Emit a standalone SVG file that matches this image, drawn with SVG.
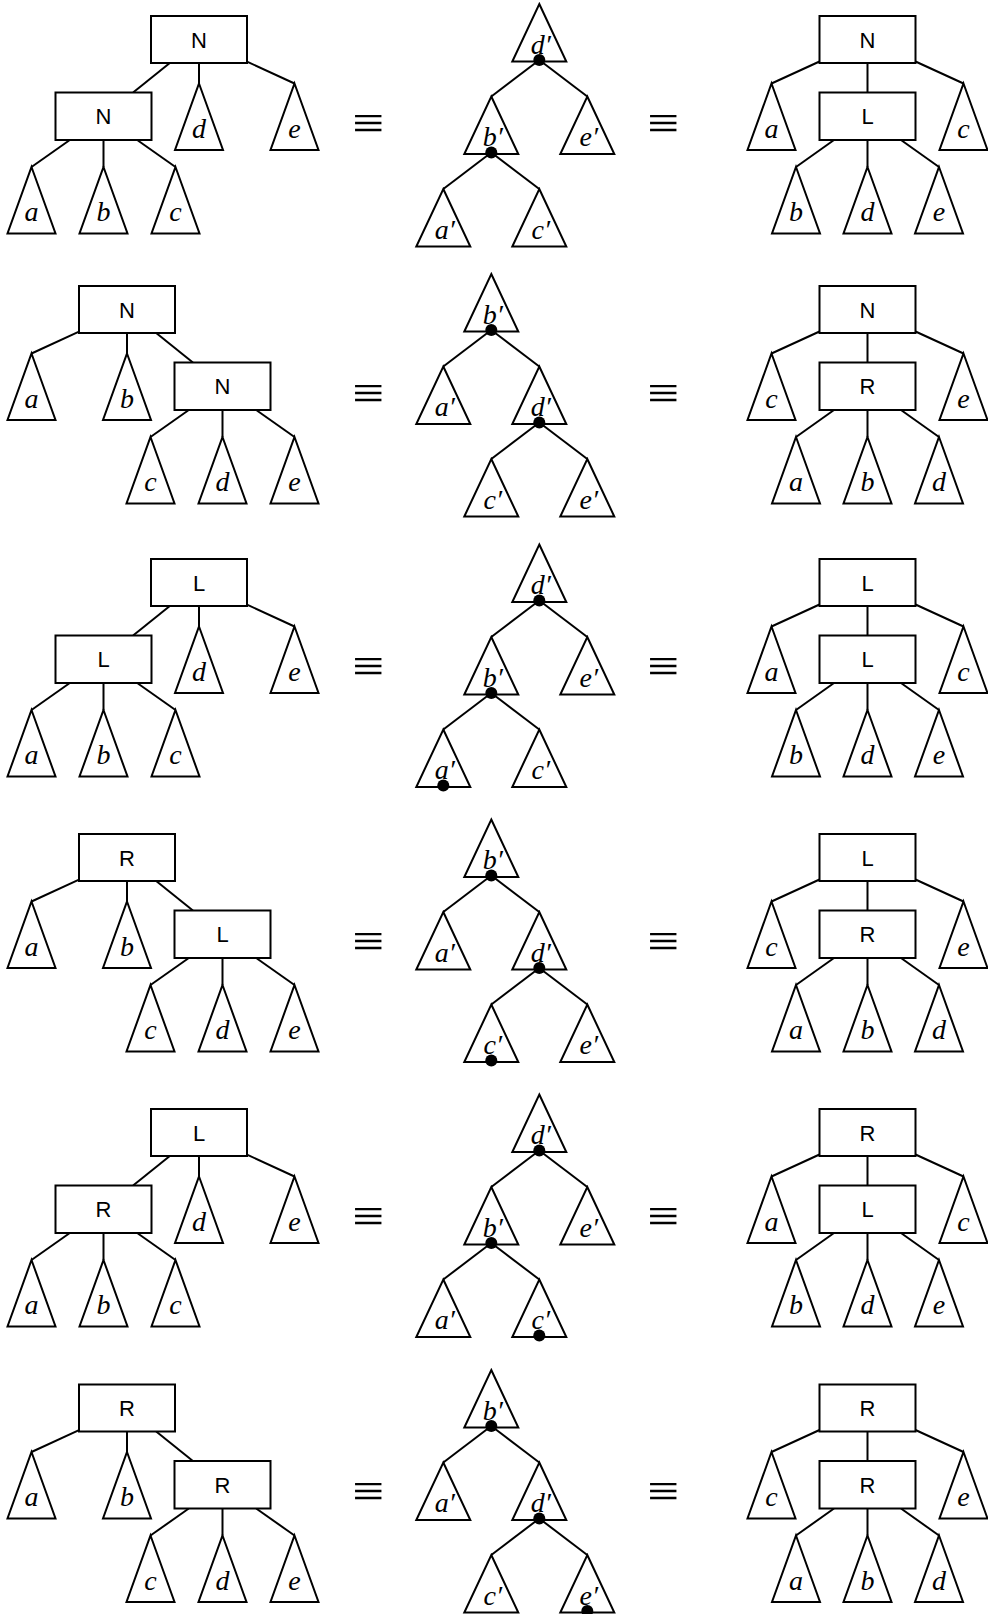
<svg xmlns="http://www.w3.org/2000/svg" xmlns:xlink="http://www.w3.org/1999/xlink" width="988" height="1614" viewBox="0 0 988 1614">
<defs>
<style>
.ln line{stroke:#000;stroke-width:2;fill:none}
.bx{fill:#fff;stroke:#000;stroke-width:2}
.tr{fill:#fff;stroke:#000;stroke-width:2;stroke-linejoin:miter}
.bl{font-family:"Liberation Sans",Arial,sans-serif;font-size:22px;text-anchor:middle}
.lb{font-family:"Liberation Serif","Times New Roman",serif;font-style:italic;font-size:28px;text-anchor:middle}
.eq{font-family:"Liberation Serif","Times New Roman",serif;font-size:48px;text-anchor:middle}
.dt{fill:#000}
</style>
<polygon id="t" points="0,0 24,66.5 -24,66.5"/>
<polygon id="m" points="0,0 27,57.5 -27,57.5"/>
</defs>
<rect width="988" height="1614" fill="#fff"/>

<!-- ROW 1 -->
<g id="row1">
<g id="r1-connectors" class="ln">
<line x1="169.8" y1="63" x2="133.1" y2="92.5"/><line x1="199" y1="63" x2="199" y2="83.5"/><line x1="247" y1="61.6" x2="294.5" y2="83.5"/>
<line x1="69.8" y1="140" x2="31.5" y2="167"/><line x1="103.5" y1="140" x2="103.5" y2="167"/><line x1="137.2" y1="140" x2="175.5" y2="167"/>
<line x1="867.5" y1="63" x2="867.5" y2="92.5"/><line x1="819.5" y1="61.5" x2="771.5" y2="83.5"/><line x1="915.5" y1="61.5" x2="963.5" y2="83.5"/>
<line x1="834" y1="140" x2="796" y2="167"/><line x1="867.5" y1="140" x2="867.5" y2="167"/><line x1="901" y1="140" x2="939" y2="167"/>
<line x1="539.3" y1="60" x2="491.3" y2="96.5"/><line x1="539.3" y1="60" x2="587.3" y2="96.5"/>
<line x1="491.3" y1="152.5" x2="443.3" y2="189"/><line x1="491.3" y1="152.5" x2="539.3" y2="189"/>
</g>
<g id="r1-l-top"><rect class="bx" x="151" y="16" width="96" height="47"/><text class="bl" x="199" y="47.5">N</text></g>
<g id="r1-l-low"><rect class="bx" x="55.5" y="92.5" width="96" height="47.5"/><text class="bl" x="103.5" y="124.2">N</text></g>
<g id="r1-l-a"><use href="#t" class="tr" x="31.5" y="167"/><text class="lb" x="31.5" y="221">a</text></g>
<g id="r1-l-b"><use href="#t" class="tr" x="103.5" y="167"/><text class="lb" x="103.5" y="221">b</text></g>
<g id="r1-l-c"><use href="#t" class="tr" x="175.5" y="167"/><text class="lb" x="175.5" y="221">c</text></g>
<g id="r1-l-d"><use href="#t" class="tr" x="199" y="83.5"/><text class="lb" x="199" y="137.5">d</text></g>
<g id="r1-l-e"><use href="#t" class="tr" x="294.5" y="83.5"/><text class="lb" x="294.5" y="137.5">e</text></g>
<text id="r1-eq1" class="eq" x="368" y="138.5" textLength="32" lengthAdjust="spacingAndGlyphs">≡</text>
<g id="r1-m-d"><use href="#m" class="tr" x="539.3" y="4"/><text class="lb" x="540.8" y="53.5">d′</text><circle class="dt" cx="539.3" cy="60" r="6"/></g>
<g id="r1-m-b"><use href="#m" class="tr" x="491.3" y="96.5"/><text class="lb" x="492.8" y="146">b′</text><circle class="dt" cx="491.3" cy="152.5" r="6"/></g>
<g id="r1-m-e"><use href="#m" class="tr" x="587.3" y="96.5"/><text class="lb" x="588.8" y="146">e′</text></g>
<g id="r1-m-a"><use href="#m" class="tr" x="443.3" y="189"/><text class="lb" x="444.8" y="238.5">a′</text></g>
<g id="r1-m-c"><use href="#m" class="tr" x="539.3" y="189"/><text class="lb" x="540.8" y="238.5">c′</text></g>
<text id="r1-eq2" class="eq" x="663" y="138.5" textLength="32" lengthAdjust="spacingAndGlyphs">≡</text>
<g id="r1-r-top"><rect class="bx" x="819.5" y="16" width="96" height="47"/><text class="bl" x="867.5" y="47.5">N</text></g>
<g id="r1-r-low"><rect class="bx" x="819.5" y="92.5" width="96" height="47.5"/><text class="bl" x="867.5" y="124.2">L</text></g>
<g id="r1-r-a"><use href="#t" class="tr" x="771.5" y="83.5"/><text class="lb" x="771.5" y="137.5">a</text></g>
<g id="r1-r-c"><use href="#t" class="tr" x="963.5" y="83.5"/><text class="lb" x="963.5" y="137.5">c</text></g>
<g id="r1-r-b"><use href="#t" class="tr" x="796" y="167"/><text class="lb" x="796" y="221">b</text></g>
<g id="r1-r-d"><use href="#t" class="tr" x="867.5" y="167"/><text class="lb" x="867.5" y="221">d</text></g>
<g id="r1-r-e"><use href="#t" class="tr" x="939" y="167"/><text class="lb" x="939" y="221">e</text></g>
</g>

<!-- ROW 2 -->
<g id="row2">
<g id="r2-connectors" class="ln">
<line x1="156.2" y1="333" x2="192.9" y2="362.5"/><line x1="127" y1="333" x2="127" y2="353.5"/><line x1="79" y1="331.6" x2="31.5" y2="353.5"/>
<line x1="256.2" y1="410" x2="294.5" y2="437"/><line x1="222.5" y1="410" x2="222.5" y2="437"/><line x1="188.8" y1="410" x2="150.5" y2="437"/>
<line x1="867.5" y1="333" x2="867.5" y2="362.5"/><line x1="819.5" y1="331.5" x2="771.5" y2="353.5"/><line x1="915.5" y1="331.5" x2="963.5" y2="353.5"/>
<line x1="834" y1="410" x2="796" y2="437"/><line x1="867.5" y1="410" x2="867.5" y2="437"/><line x1="901" y1="410" x2="939" y2="437"/>
<line x1="491.3" y1="330" x2="443.3" y2="366.5"/><line x1="491.3" y1="330" x2="539.3" y2="366.5"/>
<line x1="539.3" y1="422.5" x2="491.3" y2="459"/><line x1="539.3" y1="422.5" x2="587.3" y2="459"/>
</g>
<g id="r2-l-top"><rect class="bx" x="79" y="286" width="96" height="47"/><text class="bl" x="127" y="317.5">N</text></g>
<g id="r2-l-low"><rect class="bx" x="174.5" y="362.5" width="96" height="47.5"/><text class="bl" x="222.5" y="394.2">N</text></g>
<g id="r2-l-a"><use href="#t" class="tr" x="31.5" y="353.5"/><text class="lb" x="31.5" y="407.5">a</text></g>
<g id="r2-l-b"><use href="#t" class="tr" x="127" y="353.5"/><text class="lb" x="127" y="407.5">b</text></g>
<g id="r2-l-c"><use href="#t" class="tr" x="150.5" y="437"/><text class="lb" x="150.5" y="491">c</text></g>
<g id="r2-l-d"><use href="#t" class="tr" x="222.5" y="437"/><text class="lb" x="222.5" y="491">d</text></g>
<g id="r2-l-e"><use href="#t" class="tr" x="294.5" y="437"/><text class="lb" x="294.5" y="491">e</text></g>
<text id="r2-eq1" class="eq" x="368" y="408.5" textLength="32" lengthAdjust="spacingAndGlyphs">≡</text>
<g id="r2-m-b"><use href="#m" class="tr" x="491.3" y="274"/><text class="lb" x="492.8" y="323.5">b′</text><circle class="dt" cx="491.3" cy="330" r="6"/></g>
<g id="r2-m-a"><use href="#m" class="tr" x="443.3" y="366.5"/><text class="lb" x="444.8" y="416">a′</text></g>
<g id="r2-m-d"><use href="#m" class="tr" x="539.3" y="366.5"/><text class="lb" x="540.8" y="416">d′</text><circle class="dt" cx="539.3" cy="422.5" r="6"/></g>
<g id="r2-m-c"><use href="#m" class="tr" x="491.3" y="459"/><text class="lb" x="492.8" y="508.5">c′</text></g>
<g id="r2-m-e"><use href="#m" class="tr" x="587.3" y="459"/><text class="lb" x="588.8" y="508.5">e′</text></g>
<text id="r2-eq2" class="eq" x="663" y="408.5" textLength="32" lengthAdjust="spacingAndGlyphs">≡</text>
<g id="r2-r-top"><rect class="bx" x="819.5" y="286" width="96" height="47"/><text class="bl" x="867.5" y="317.5">N</text></g>
<g id="r2-r-low"><rect class="bx" x="819.5" y="362.5" width="96" height="47.5"/><text class="bl" x="867.5" y="394.2">R</text></g>
<g id="r2-r-c"><use href="#t" class="tr" x="771.5" y="353.5"/><text class="lb" x="771.5" y="407.5">c</text></g>
<g id="r2-r-e"><use href="#t" class="tr" x="963.5" y="353.5"/><text class="lb" x="963.5" y="407.5">e</text></g>
<g id="r2-r-a"><use href="#t" class="tr" x="796" y="437"/><text class="lb" x="796" y="491">a</text></g>
<g id="r2-r-b"><use href="#t" class="tr" x="867.5" y="437"/><text class="lb" x="867.5" y="491">b</text></g>
<g id="r2-r-d"><use href="#t" class="tr" x="939" y="437"/><text class="lb" x="939" y="491">d</text></g>
</g>

<!-- ROW 3 -->
<g id="row3" transform="translate(0,543)">
<g id="r3-connectors" class="ln">
<line x1="169.8" y1="63" x2="133.1" y2="92.5"/><line x1="199" y1="63" x2="199" y2="83.5"/><line x1="247" y1="61.6" x2="294.5" y2="83.5"/>
<line x1="69.8" y1="140" x2="31.5" y2="167"/><line x1="103.5" y1="140" x2="103.5" y2="167"/><line x1="137.2" y1="140" x2="175.5" y2="167"/>
<line x1="867.5" y1="63" x2="867.5" y2="92.5"/><line x1="819.5" y1="61.5" x2="771.5" y2="83.5"/><line x1="915.5" y1="61.5" x2="963.5" y2="83.5"/>
<line x1="834" y1="140" x2="796" y2="167"/><line x1="867.5" y1="140" x2="867.5" y2="167"/><line x1="901" y1="140" x2="939" y2="167"/>
<g transform="translate(0,-2.5)">
<line x1="539.3" y1="60" x2="491.3" y2="96.5"/><line x1="539.3" y1="60" x2="587.3" y2="96.5"/>
<line x1="491.3" y1="152.5" x2="443.3" y2="189"/><line x1="491.3" y1="152.5" x2="539.3" y2="189"/>
</g>
</g>
<g id="r3-l-top"><rect class="bx" x="151" y="16" width="96" height="47"/><text class="bl" x="199" y="47.5">L</text></g>
<g id="r3-l-low"><rect class="bx" x="55.5" y="92.5" width="96" height="47.5"/><text class="bl" x="103.5" y="124.2">L</text></g>
<g id="r3-l-a"><use href="#t" class="tr" x="31.5" y="167"/><text class="lb" x="31.5" y="221">a</text></g>
<g id="r3-l-b"><use href="#t" class="tr" x="103.5" y="167"/><text class="lb" x="103.5" y="221">b</text></g>
<g id="r3-l-c"><use href="#t" class="tr" x="175.5" y="167"/><text class="lb" x="175.5" y="221">c</text></g>
<g id="r3-l-d"><use href="#t" class="tr" x="199" y="83.5"/><text class="lb" x="199" y="137.5">d</text></g>
<g id="r3-l-e"><use href="#t" class="tr" x="294.5" y="83.5"/><text class="lb" x="294.5" y="137.5">e</text></g>
<text id="r3-eq1" class="eq" x="368" y="138.5" textLength="32" lengthAdjust="spacingAndGlyphs">≡</text>
<g transform="translate(0,-2.5)">
<g id="r3-m-d"><use href="#m" class="tr" x="539.3" y="4"/><text class="lb" x="540.8" y="53.5">d′</text><circle class="dt" cx="539.3" cy="60" r="6"/></g>
<g id="r3-m-b"><use href="#m" class="tr" x="491.3" y="96.5"/><text class="lb" x="492.8" y="146">b′</text><circle class="dt" cx="491.3" cy="152.5" r="6"/></g>
<g id="r3-m-e"><use href="#m" class="tr" x="587.3" y="96.5"/><text class="lb" x="588.8" y="146">e′</text></g>
<g id="r3-m-a"><use href="#m" class="tr" x="443.3" y="189"/><text class="lb" x="444.8" y="238.5">a′</text><circle class="dt" cx="443.3" cy="245" r="6"/></g>
<g id="r3-m-c"><use href="#m" class="tr" x="539.3" y="189"/><text class="lb" x="540.8" y="238.5">c′</text></g>
</g>
<text id="r3-eq2" class="eq" x="663" y="138.5" textLength="32" lengthAdjust="spacingAndGlyphs">≡</text>
<g id="r3-r-top"><rect class="bx" x="819.5" y="16" width="96" height="47"/><text class="bl" x="867.5" y="47.5">L</text></g>
<g id="r3-r-low"><rect class="bx" x="819.5" y="92.5" width="96" height="47.5"/><text class="bl" x="867.5" y="124.2">L</text></g>
<g id="r3-r-a"><use href="#t" class="tr" x="771.5" y="83.5"/><text class="lb" x="771.5" y="137.5">a</text></g>
<g id="r3-r-c"><use href="#t" class="tr" x="963.5" y="83.5"/><text class="lb" x="963.5" y="137.5">c</text></g>
<g id="r3-r-b"><use href="#t" class="tr" x="796" y="167"/><text class="lb" x="796" y="221">b</text></g>
<g id="r3-r-d"><use href="#t" class="tr" x="867.5" y="167"/><text class="lb" x="867.5" y="221">d</text></g>
<g id="r3-r-e"><use href="#t" class="tr" x="939" y="167"/><text class="lb" x="939" y="221">e</text></g>
</g>

<!-- ROW 4 -->
<g id="row4" transform="translate(0,548)">
<g id="r4-connectors" class="ln">
<line x1="156.2" y1="333" x2="192.9" y2="362.5"/><line x1="127" y1="333" x2="127" y2="353.5"/><line x1="79" y1="331.6" x2="31.5" y2="353.5"/>
<line x1="256.2" y1="410" x2="294.5" y2="437"/><line x1="222.5" y1="410" x2="222.5" y2="437"/><line x1="188.8" y1="410" x2="150.5" y2="437"/>
<line x1="867.5" y1="333" x2="867.5" y2="362.5"/><line x1="819.5" y1="331.5" x2="771.5" y2="353.5"/><line x1="915.5" y1="331.5" x2="963.5" y2="353.5"/>
<line x1="834" y1="410" x2="796" y2="437"/><line x1="867.5" y1="410" x2="867.5" y2="437"/><line x1="901" y1="410" x2="939" y2="437"/>
<g transform="translate(0,-2.5)">
<line x1="491.3" y1="330" x2="443.3" y2="366.5"/><line x1="491.3" y1="330" x2="539.3" y2="366.5"/>
<line x1="539.3" y1="422.5" x2="491.3" y2="459"/><line x1="539.3" y1="422.5" x2="587.3" y2="459"/>
</g>
</g>
<g id="r4-l-top"><rect class="bx" x="79" y="286" width="96" height="47"/><text class="bl" x="127" y="317.5">R</text></g>
<g id="r4-l-low"><rect class="bx" x="174.5" y="362.5" width="96" height="47.5"/><text class="bl" x="222.5" y="394.2">L</text></g>
<g id="r4-l-a"><use href="#t" class="tr" x="31.5" y="353.5"/><text class="lb" x="31.5" y="407.5">a</text></g>
<g id="r4-l-b"><use href="#t" class="tr" x="127" y="353.5"/><text class="lb" x="127" y="407.5">b</text></g>
<g id="r4-l-c"><use href="#t" class="tr" x="150.5" y="437"/><text class="lb" x="150.5" y="491">c</text></g>
<g id="r4-l-d"><use href="#t" class="tr" x="222.5" y="437"/><text class="lb" x="222.5" y="491">d</text></g>
<g id="r4-l-e"><use href="#t" class="tr" x="294.5" y="437"/><text class="lb" x="294.5" y="491">e</text></g>
<text id="r4-eq1" class="eq" x="368" y="408.5" textLength="32" lengthAdjust="spacingAndGlyphs">≡</text>
<g transform="translate(0,-2.5)">
<g id="r4-m-b"><use href="#m" class="tr" x="491.3" y="274"/><text class="lb" x="492.8" y="323.5">b′</text><circle class="dt" cx="491.3" cy="330" r="6"/></g>
<g id="r4-m-a"><use href="#m" class="tr" x="443.3" y="366.5"/><text class="lb" x="444.8" y="416">a′</text></g>
<g id="r4-m-d"><use href="#m" class="tr" x="539.3" y="366.5"/><text class="lb" x="540.8" y="416">d′</text><circle class="dt" cx="539.3" cy="422.5" r="6"/></g>
<g id="r4-m-c"><use href="#m" class="tr" x="491.3" y="459"/><text class="lb" x="492.8" y="508.5">c′</text><circle class="dt" cx="491.3" cy="515" r="6"/></g>
<g id="r4-m-e"><use href="#m" class="tr" x="587.3" y="459"/><text class="lb" x="588.8" y="508.5">e′</text></g>
</g>
<text id="r4-eq2" class="eq" x="663" y="408.5" textLength="32" lengthAdjust="spacingAndGlyphs">≡</text>
<g id="r4-r-top"><rect class="bx" x="819.5" y="286" width="96" height="47"/><text class="bl" x="867.5" y="317.5">L</text></g>
<g id="r4-r-low"><rect class="bx" x="819.5" y="362.5" width="96" height="47.5"/><text class="bl" x="867.5" y="394.2">R</text></g>
<g id="r4-r-c"><use href="#t" class="tr" x="771.5" y="353.5"/><text class="lb" x="771.5" y="407.5">c</text></g>
<g id="r4-r-e"><use href="#t" class="tr" x="963.5" y="353.5"/><text class="lb" x="963.5" y="407.5">e</text></g>
<g id="r4-r-a"><use href="#t" class="tr" x="796" y="437"/><text class="lb" x="796" y="491">a</text></g>
<g id="r4-r-b"><use href="#t" class="tr" x="867.5" y="437"/><text class="lb" x="867.5" y="491">b</text></g>
<g id="r4-r-d"><use href="#t" class="tr" x="939" y="437"/><text class="lb" x="939" y="491">d</text></g>
</g>

<!-- ROW 5 -->
<g id="row5" transform="translate(0,1093)">
<g id="r5-connectors" class="ln">
<line x1="169.8" y1="63" x2="133.1" y2="92.5"/><line x1="199" y1="63" x2="199" y2="83.5"/><line x1="247" y1="61.6" x2="294.5" y2="83.5"/>
<line x1="69.8" y1="140" x2="31.5" y2="167"/><line x1="103.5" y1="140" x2="103.5" y2="167"/><line x1="137.2" y1="140" x2="175.5" y2="167"/>
<line x1="867.5" y1="63" x2="867.5" y2="92.5"/><line x1="819.5" y1="61.5" x2="771.5" y2="83.5"/><line x1="915.5" y1="61.5" x2="963.5" y2="83.5"/>
<line x1="834" y1="140" x2="796" y2="167"/><line x1="867.5" y1="140" x2="867.5" y2="167"/><line x1="901" y1="140" x2="939" y2="167"/>
<g transform="translate(0,-2.5)">
<line x1="539.3" y1="60" x2="491.3" y2="96.5"/><line x1="539.3" y1="60" x2="587.3" y2="96.5"/>
<line x1="491.3" y1="152.5" x2="443.3" y2="189"/><line x1="491.3" y1="152.5" x2="539.3" y2="189"/>
</g>
</g>
<g id="r5-l-top"><rect class="bx" x="151" y="16" width="96" height="47"/><text class="bl" x="199" y="47.5">L</text></g>
<g id="r5-l-low"><rect class="bx" x="55.5" y="92.5" width="96" height="47.5"/><text class="bl" x="103.5" y="124.2">R</text></g>
<g id="r5-l-a"><use href="#t" class="tr" x="31.5" y="167"/><text class="lb" x="31.5" y="221">a</text></g>
<g id="r5-l-b"><use href="#t" class="tr" x="103.5" y="167"/><text class="lb" x="103.5" y="221">b</text></g>
<g id="r5-l-c"><use href="#t" class="tr" x="175.5" y="167"/><text class="lb" x="175.5" y="221">c</text></g>
<g id="r5-l-d"><use href="#t" class="tr" x="199" y="83.5"/><text class="lb" x="199" y="137.5">d</text></g>
<g id="r5-l-e"><use href="#t" class="tr" x="294.5" y="83.5"/><text class="lb" x="294.5" y="137.5">e</text></g>
<text id="r5-eq1" class="eq" x="368" y="138.5" textLength="32" lengthAdjust="spacingAndGlyphs">≡</text>
<g transform="translate(0,-2.5)">
<g id="r5-m-d"><use href="#m" class="tr" x="539.3" y="4"/><text class="lb" x="540.8" y="53.5">d′</text><circle class="dt" cx="539.3" cy="60" r="6"/></g>
<g id="r5-m-b"><use href="#m" class="tr" x="491.3" y="96.5"/><text class="lb" x="492.8" y="146">b′</text><circle class="dt" cx="491.3" cy="152.5" r="6"/></g>
<g id="r5-m-e"><use href="#m" class="tr" x="587.3" y="96.5"/><text class="lb" x="588.8" y="146">e′</text></g>
<g id="r5-m-a"><use href="#m" class="tr" x="443.3" y="189"/><text class="lb" x="444.8" y="238.5">a′</text></g>
<g id="r5-m-c"><use href="#m" class="tr" x="539.3" y="189"/><text class="lb" x="540.8" y="238.5">c′</text><circle class="dt" cx="539.3" cy="245" r="6"/></g>
</g>
<text id="r5-eq2" class="eq" x="663" y="138.5" textLength="32" lengthAdjust="spacingAndGlyphs">≡</text>
<g id="r5-r-top"><rect class="bx" x="819.5" y="16" width="96" height="47"/><text class="bl" x="867.5" y="47.5">R</text></g>
<g id="r5-r-low"><rect class="bx" x="819.5" y="92.5" width="96" height="47.5"/><text class="bl" x="867.5" y="124.2">L</text></g>
<g id="r5-r-a"><use href="#t" class="tr" x="771.5" y="83.5"/><text class="lb" x="771.5" y="137.5">a</text></g>
<g id="r5-r-c"><use href="#t" class="tr" x="963.5" y="83.5"/><text class="lb" x="963.5" y="137.5">c</text></g>
<g id="r5-r-b"><use href="#t" class="tr" x="796" y="167"/><text class="lb" x="796" y="221">b</text></g>
<g id="r5-r-d"><use href="#t" class="tr" x="867.5" y="167"/><text class="lb" x="867.5" y="221">d</text></g>
<g id="r5-r-e"><use href="#t" class="tr" x="939" y="167"/><text class="lb" x="939" y="221">e</text></g>
</g>

<!-- ROW 6 -->
<g id="row6" transform="translate(0,1098.5)">
<g id="r6-connectors" class="ln">
<line x1="156.2" y1="333" x2="192.9" y2="362.5"/><line x1="127" y1="333" x2="127" y2="353.5"/><line x1="79" y1="331.6" x2="31.5" y2="353.5"/>
<line x1="256.2" y1="410" x2="294.5" y2="437"/><line x1="222.5" y1="410" x2="222.5" y2="437"/><line x1="188.8" y1="410" x2="150.5" y2="437"/>
<line x1="867.5" y1="333" x2="867.5" y2="362.5"/><line x1="819.5" y1="331.5" x2="771.5" y2="353.5"/><line x1="915.5" y1="331.5" x2="963.5" y2="353.5"/>
<line x1="834" y1="410" x2="796" y2="437"/><line x1="867.5" y1="410" x2="867.5" y2="437"/><line x1="901" y1="410" x2="939" y2="437"/>
<g transform="translate(0,-2.5)">
<line x1="491.3" y1="330" x2="443.3" y2="366.5"/><line x1="491.3" y1="330" x2="539.3" y2="366.5"/>
<line x1="539.3" y1="422.5" x2="491.3" y2="459"/><line x1="539.3" y1="422.5" x2="587.3" y2="459"/>
</g>
</g>
<g id="r6-l-top"><rect class="bx" x="79" y="286" width="96" height="47"/><text class="bl" x="127" y="317.5">R</text></g>
<g id="r6-l-low"><rect class="bx" x="174.5" y="362.5" width="96" height="47.5"/><text class="bl" x="222.5" y="394.2">R</text></g>
<g id="r6-l-a"><use href="#t" class="tr" x="31.5" y="353.5"/><text class="lb" x="31.5" y="407.5">a</text></g>
<g id="r6-l-b"><use href="#t" class="tr" x="127" y="353.5"/><text class="lb" x="127" y="407.5">b</text></g>
<g id="r6-l-c"><use href="#t" class="tr" x="150.5" y="437"/><text class="lb" x="150.5" y="491">c</text></g>
<g id="r6-l-d"><use href="#t" class="tr" x="222.5" y="437"/><text class="lb" x="222.5" y="491">d</text></g>
<g id="r6-l-e"><use href="#t" class="tr" x="294.5" y="437"/><text class="lb" x="294.5" y="491">e</text></g>
<text id="r6-eq1" class="eq" x="368" y="408.5" textLength="32" lengthAdjust="spacingAndGlyphs">≡</text>
<g transform="translate(0,-2.5)">
<g id="r6-m-b"><use href="#m" class="tr" x="491.3" y="274"/><text class="lb" x="492.8" y="323.5">b′</text><circle class="dt" cx="491.3" cy="330" r="6"/></g>
<g id="r6-m-a"><use href="#m" class="tr" x="443.3" y="366.5"/><text class="lb" x="444.8" y="416">a′</text></g>
<g id="r6-m-d"><use href="#m" class="tr" x="539.3" y="366.5"/><text class="lb" x="540.8" y="416">d′</text><circle class="dt" cx="539.3" cy="422.5" r="6"/></g>
<g id="r6-m-c"><use href="#m" class="tr" x="491.3" y="459"/><text class="lb" x="492.8" y="508.5">c′</text></g>
<g id="r6-m-e"><use href="#m" class="tr" x="587.3" y="459"/><text class="lb" x="588.8" y="508.5">e′</text><circle class="dt" cx="587.3" cy="515" r="6"/></g>
</g>
<text id="r6-eq2" class="eq" x="663" y="408.5" textLength="32" lengthAdjust="spacingAndGlyphs">≡</text>
<g id="r6-r-top"><rect class="bx" x="819.5" y="286" width="96" height="47"/><text class="bl" x="867.5" y="317.5">R</text></g>
<g id="r6-r-low"><rect class="bx" x="819.5" y="362.5" width="96" height="47.5"/><text class="bl" x="867.5" y="394.2">R</text></g>
<g id="r6-r-c"><use href="#t" class="tr" x="771.5" y="353.5"/><text class="lb" x="771.5" y="407.5">c</text></g>
<g id="r6-r-e"><use href="#t" class="tr" x="963.5" y="353.5"/><text class="lb" x="963.5" y="407.5">e</text></g>
<g id="r6-r-a"><use href="#t" class="tr" x="796" y="437"/><text class="lb" x="796" y="491">a</text></g>
<g id="r6-r-b"><use href="#t" class="tr" x="867.5" y="437"/><text class="lb" x="867.5" y="491">b</text></g>
<g id="r6-r-d"><use href="#t" class="tr" x="939" y="437"/><text class="lb" x="939" y="491">d</text></g>
</g>
</svg>
